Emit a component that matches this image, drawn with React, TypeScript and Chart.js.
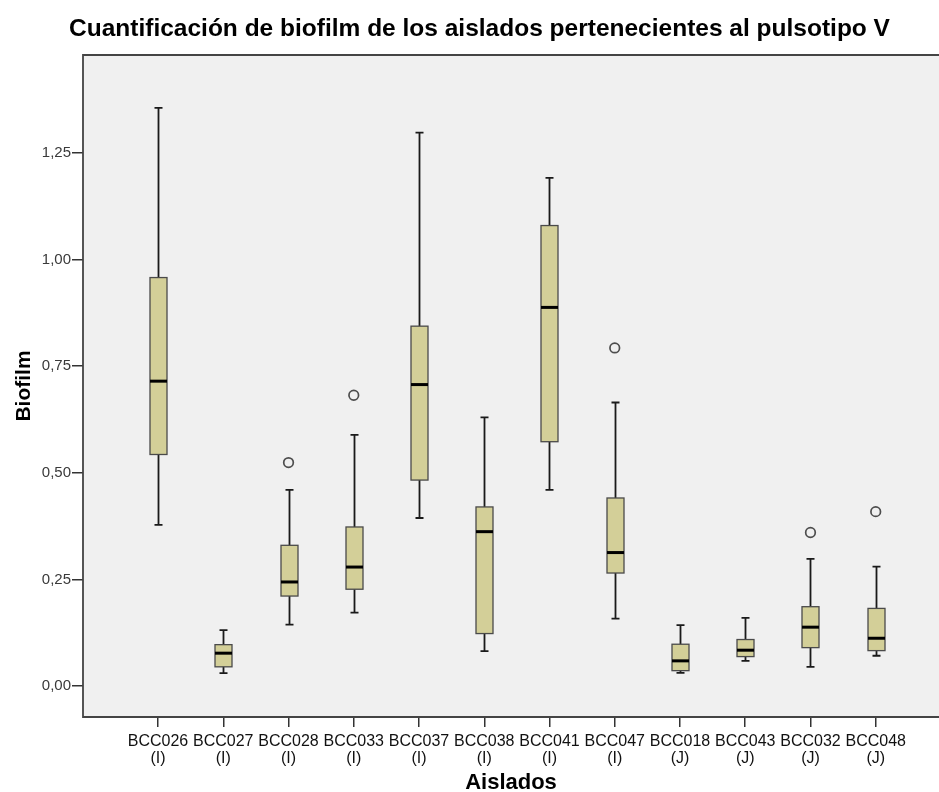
import { useEffect, useRef } from "react";
import { Chart, registerables } from "chart.js";

Chart.register(...registerables);

const isolates = ["BCC026", "BCC027", "BCC028", "BCC033", "BCC037", "BCC038", "BCC041", "BCC047", "BCC018", "BCC043", "BCC032", "BCC048"];
const groups = ["(I)", "(I)", "(I)", "(I)", "(I)", "(I)", "(I)", "(I)", "(J)", "(J)", "(J)", "(J)"];
const whiskerLow = [0.378, 0.030, 0.144, 0.172, 0.394, 0.082, 0.460, 0.158, 0.031, 0.059, 0.045, 0.071];
const q1 = [0.543, 0.045, 0.211, 0.227, 0.483, 0.123, 0.573, 0.265, 0.036, 0.069, 0.090, 0.083];
const median = [0.715, 0.077, 0.244, 0.279, 0.707, 0.362, 0.888, 0.313, 0.059, 0.084, 0.138, 0.112];
const q3 = [0.958, 0.097, 0.330, 0.373, 0.844, 0.420, 1.080, 0.441, 0.098, 0.109, 0.186, 0.182];
const whiskerHigh = [1.356, 0.131, 0.460, 0.589, 1.298, 0.630, 1.192, 0.665, 0.143, 0.160, 0.298, 0.280];
const outlierIsolate = ["BCC028", "BCC033", "BCC047", "BCC032", "BCC048"];
const outlierValue = [0.524, 0.682, 0.793, 0.360, 0.409];
const yTicks = [0, 0.25, 0.5, 0.75, 1.0, 1.25];

const FONT = "'Liberation Sans', Arial, sans-serif";
const BOX_FILL = "rgb(211,207,152)";

const boxPlugin = {
  id: "boxPlot",
  beforeDraw(chart: any) {
    const { ctx, chartArea: a } = chart;
    ctx.save();
    ctx.fillStyle = "#f0f0f0";
    ctx.fillRect(a.left, a.top, a.right - a.left, a.bottom - a.top);
    ctx.restore();
  },
  beforeDatasetsDraw(chart: any) {
    const { ctx } = chart;
    const xs = chart.scales.x;
    const ys = chart.scales.y;
    const half = 8.5;
    const cap = 4;
    ctx.save();
    isolates.forEach((_, i) => {
      const x = Math.round(xs.getPixelForValue(i)) + 0.5;
      const yLo = ys.getPixelForValue(whiskerLow[i]);
      const yQ1 = ys.getPixelForValue(q1[i]);
      const yMed = ys.getPixelForValue(median[i]);
      const yQ3 = ys.getPixelForValue(q3[i]);
      const yHi = ys.getPixelForValue(whiskerHigh[i]);
      ctx.strokeStyle = "#1a1a1a";
      ctx.lineWidth = 1.8;
      ctx.beginPath();
      ctx.moveTo(x, yHi);
      ctx.lineTo(x, yQ3);
      ctx.moveTo(x, yQ1);
      ctx.lineTo(x, yLo);
      ctx.moveTo(x - cap, yHi);
      ctx.lineTo(x + cap, yHi);
      ctx.moveTo(x - cap, yLo);
      ctx.lineTo(x + cap, yLo);
      ctx.stroke();
      ctx.fillStyle = BOX_FILL;
      ctx.fillRect(x - half, yQ3, half * 2, yQ1 - yQ3);
      ctx.strokeStyle = "#4a4a4a";
      ctx.lineWidth = 1.3;
      ctx.strokeRect(x - half, yQ3, half * 2, yQ1 - yQ3);
      ctx.strokeStyle = "#000000";
      ctx.lineWidth = 3;
      ctx.beginPath();
      ctx.moveTo(x - half, yMed);
      ctx.lineTo(x + half, yMed);
      ctx.stroke();
    });
    ctx.restore();
  },
  afterDatasetsDraw(chart: any) {
    const { ctx, chartArea: a } = chart;
    ctx.save();
    ctx.strokeStyle = "#444444";
    ctx.lineWidth = 1.8;
    ctx.beginPath();
    ctx.moveTo(a.right + 2, a.top);
    ctx.lineTo(a.left, a.top);
    ctx.lineTo(a.left, a.bottom);
    ctx.lineTo(a.right + 2, a.bottom);
    ctx.stroke();
    ctx.restore();
  },
};

export default function App() {
  const ref = useRef<HTMLCanvasElement>(null);

  useEffect(() => {
    document.body.style.margin = "0";
    const canvas = ref.current;
    if (!canvas) return;
    const outliers = outlierIsolate.map((name, k) => ({ x: isolates.indexOf(name), y: outlierValue[k] }));
    const chart = new Chart(canvas, {
      type: "scatter",
      data: {
        datasets: [
          {
            label: "Atípicos",
            data: outliers,
            pointStyle: "circle",
            pointRadius: 4.8,
            pointBorderWidth: 1.7,
            borderColor: "#4d4d4d",
            backgroundColor: "rgba(0,0,0,0)",
          } as any,
        ],
      },
      options: {
        animation: false,
        responsive: false,
        maintainAspectRatio: false,
        layout: { autoPadding: false, padding: { left: 20, right: 0, top: 0, bottom: 0 } },
        plugins: {
          legend: { display: false },
          tooltip: { enabled: false },
          title: {
            display: true,
            text: "Cuantificación de biofilm de los aislados pertenecientes al pulsotipo V",
            color: "#000000",
            font: { family: FONT, size: 24.5, weight: "bold", lineHeight: 1.2 },
            padding: { top: 14.3, bottom: 11.3 },
          },
        },
        scales: {
          x: {
            type: "linear",
            min: -1.15,
            max: 11.97,
            afterBuildTicks: (s: any) => {
              s.ticks = isolates.map((_, i) => ({ value: i }));
            },
            afterFit: (s: any) => {
              s.height = 75;
              s.paddingLeft = 0;
              s.paddingRight = 0;
            },
            border: { display: false },
            grid: { display: true, drawOnChartArea: false, drawTicks: true, tickLength: 10, color: "#333333", lineWidth: 1.5 },
            ticks: {
              autoSkip: false,
              maxRotation: 0,
              minRotation: 0,
              padding: 6,
              color: "#111111",
              font: { family: FONT, size: 16, lineHeight: 1.07 },
              callback: (v: any) => {
                const i = Math.round(Number(v));
                return [isolates[i], groups[i]];
              },
            },
            title: {
              display: true,
              text: "Aislados",
              color: "#000000",
              font: { family: FONT, size: 22, weight: "bold", lineHeight: 1 },
              padding: { top: 0, bottom: -2 },
            },
          },
          y: {
            type: "linear",
            min: -0.0727,
            max: 1.48,
            afterBuildTicks: (s: any) => {
              s.ticks = yTicks.map((v) => ({ value: v }));
            },
            afterFit: (s: any) => {
              s.width = 63;
              s.paddingTop = 0;
              s.paddingBottom = 0;
            },
            border: { display: false },
            grid: { display: true, drawOnChartArea: false, drawTicks: true, tickLength: 11, color: "#333333", lineWidth: 1.5 },
            ticks: {
              padding: 1,
              color: "#3a3a3a",
              font: { family: FONT, size: 15 },
              callback: (v: any) => Number(v).toFixed(2).replace(".", ","),
            },
            title: {
              display: true,
              text: "Biofilm",
              color: "#000000",
              font: { family: FONT, size: 21, weight: "bold", lineHeight: 1 },
              padding: { top: -6, bottom: 0 },
            },
          },
        },
      },
      plugins: [boxPlugin],
    });
    return () => chart.destroy();
  }, []);

  return (
    <div style={{ position: "fixed", left: 0, top: 0, width: 939, height: 792, background: "#ffffff" }}>
      <canvas ref={ref} width={939} height={792} style={{ display: "block", width: 939, height: 792 }} />
    </div>
  );
}
